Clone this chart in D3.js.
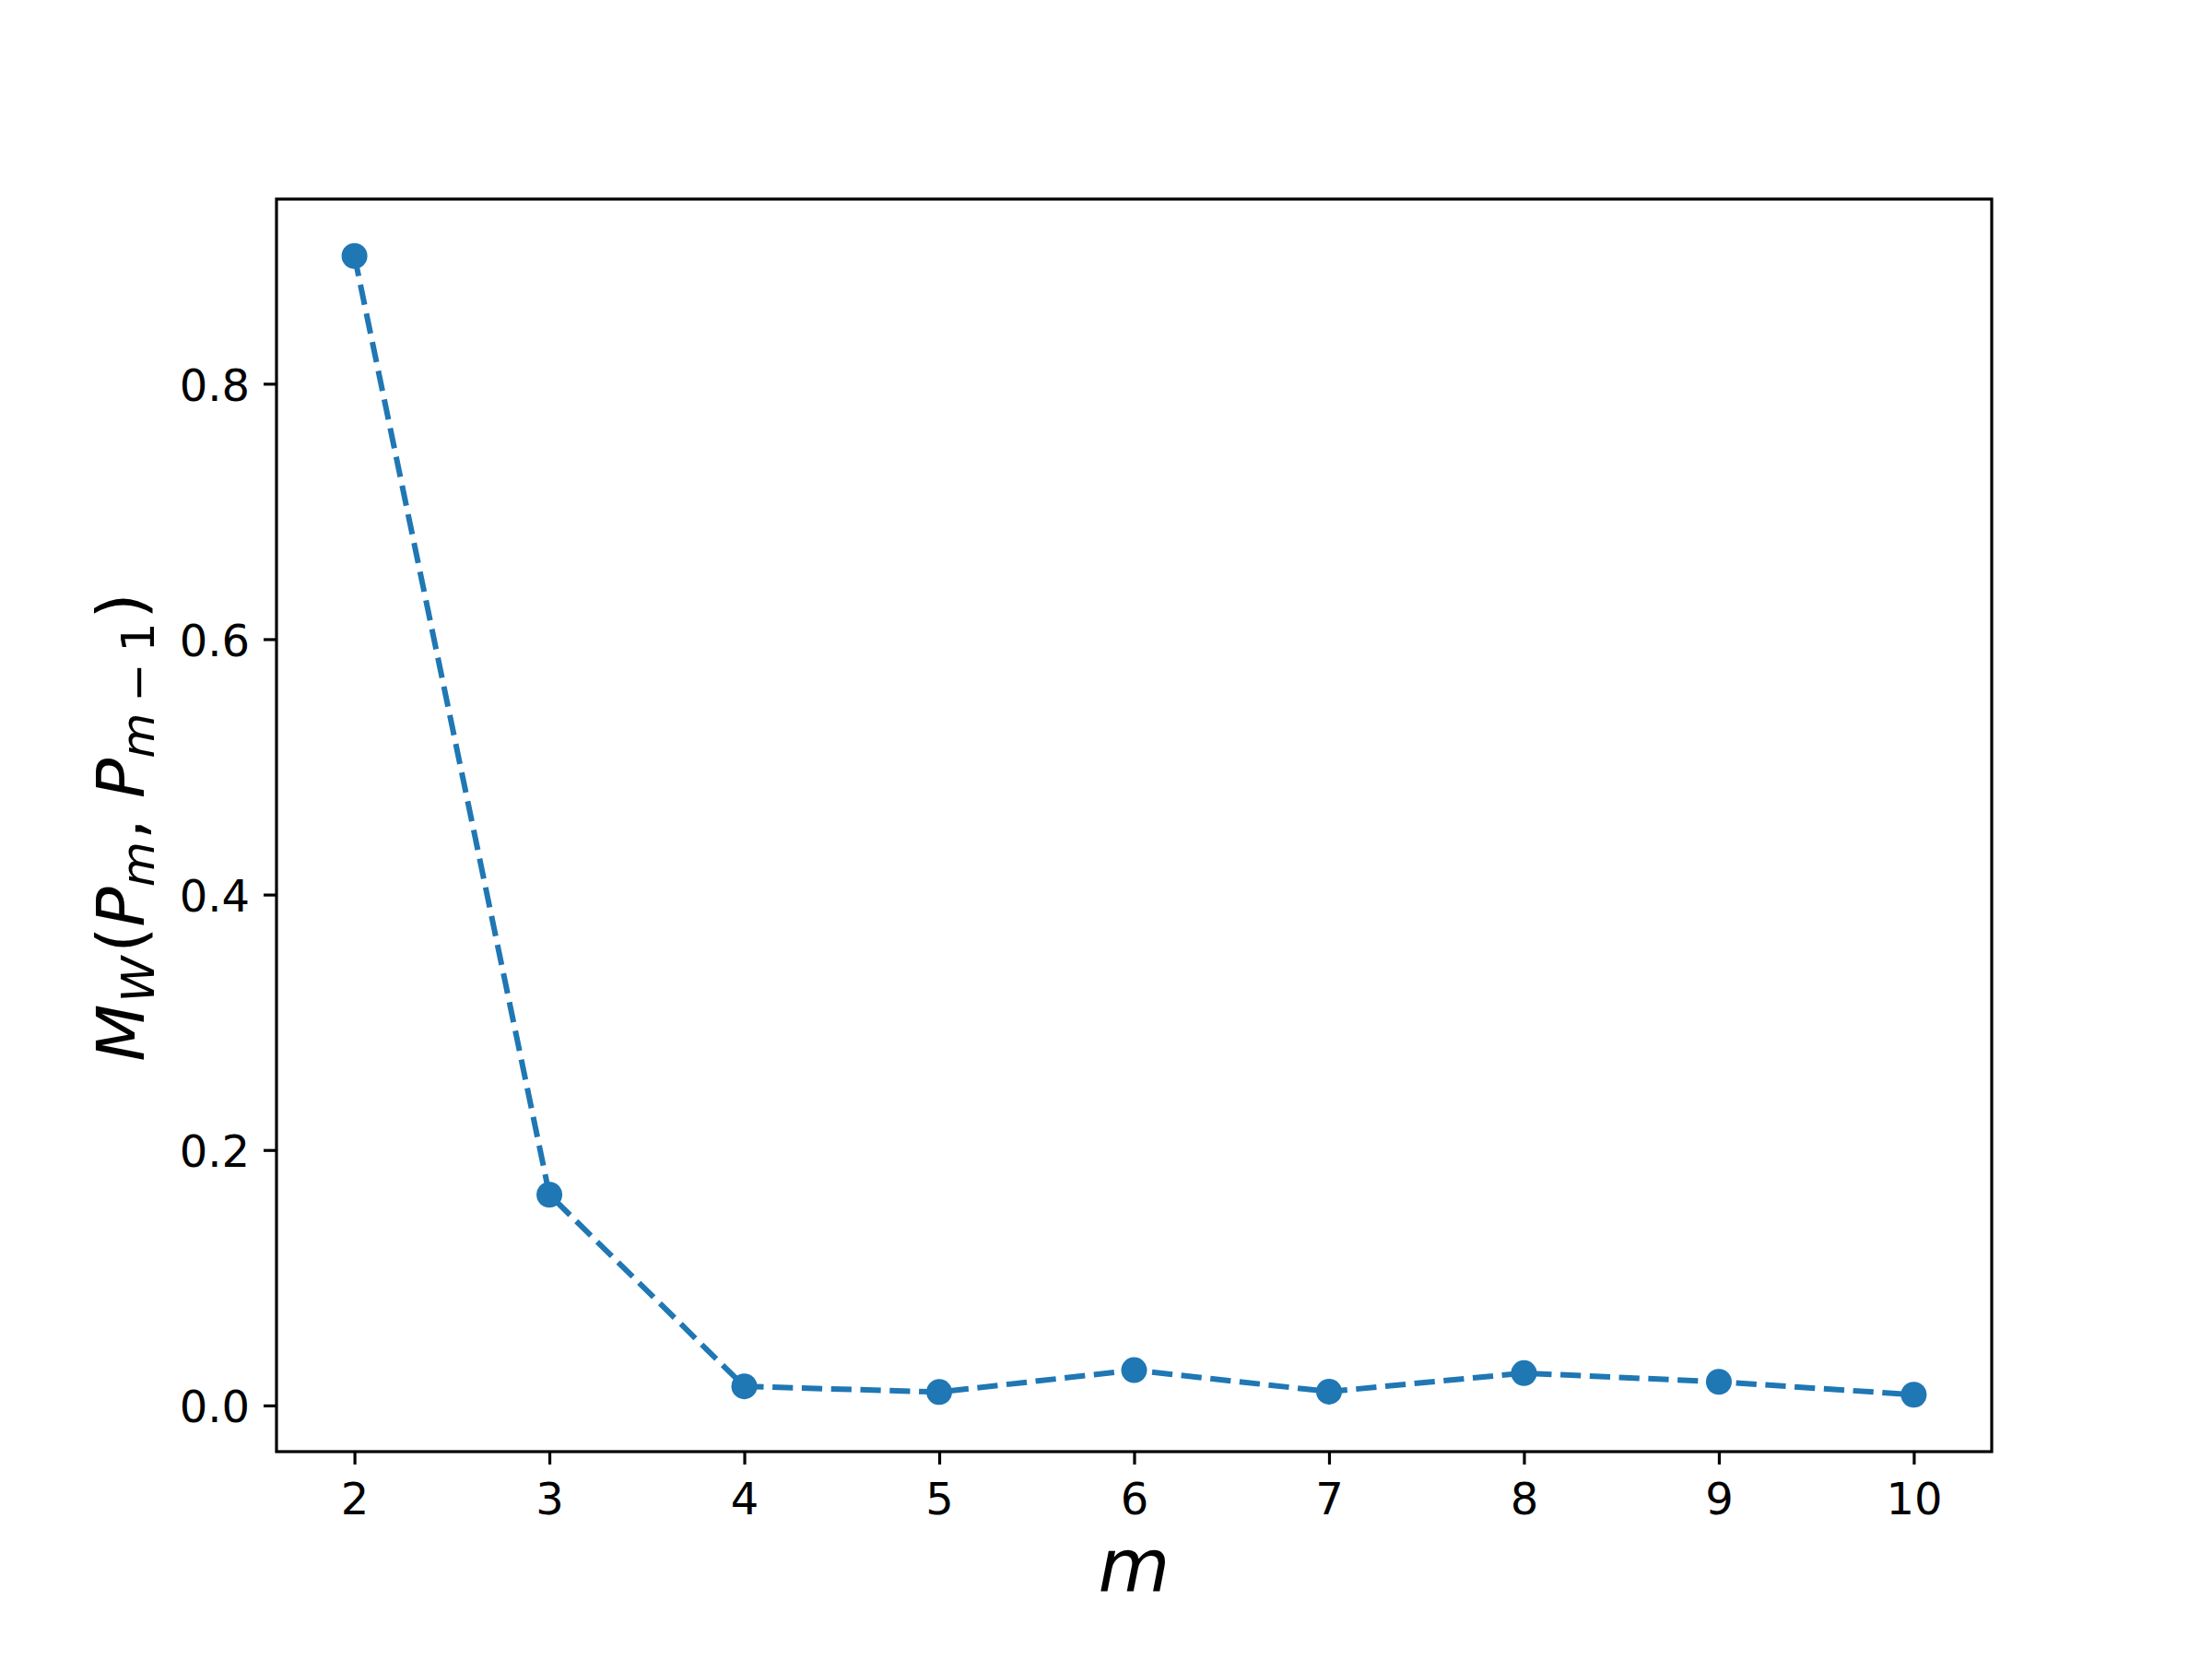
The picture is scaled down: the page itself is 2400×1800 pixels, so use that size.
<!DOCTYPE html>
<html>
<head>
<meta charset="utf-8">
<script src="https://cdn.jsdelivr.net/npm/d3@7"></script>
<style>
  html, body { margin: 0; padding: 0; background: #ffffff; }
  svg { display: block; }
</style>
</head>
<body>
<script>
// ---- data ----
const mValues = [2, 3, 4, 5, 6, 7, 8, 9, 10];
const distValues = [0.900, 0.165, 0.0149, 0.0105, 0.0276, 0.0108, 0.0253, 0.0185, 0.0084];
const xTicks = [2, 3, 4, 5, 6, 7, 8, 9, 10];
const yTicks = [0.0, 0.2, 0.4, 0.6, 0.8];

const W = 2400, H = 1800;
const plot = { left: 300, right: 2161, top: 216, bottom: 1575 };
const color = "#1f77b4";
const font = "'DejaVu Sans', sans-serif";

const svg = d3.select("body").append("svg").attr("width", W).attr("height", H);
svg.append("rect").attr("width", W).attr("height", H).attr("fill", "#fff");

// matplotlib-like 5% margins
const xMin = d3.min(mValues), xMax = d3.max(mValues);
const yMin = d3.min(distValues), yMax = d3.max(distValues);
const xPad = (xMax - xMin) * 0.05, yPad = (yMax - yMin) * 0.05;

const x = d3.scaleLinear().domain([xMin - xPad, xMax + xPad]).range([plot.left, plot.right]);
const y = d3.scaleLinear().domain([yMin - yPad, yMax + yPad]).range([plot.bottom, plot.top]);

// axes
const xAxis = svg.append("g").attr("transform", `translate(0,${plot.bottom})`)
  .call(d3.axisBottom(x).tickValues(xTicks).tickFormat(d3.format("d")).tickSize(14).tickPadding(14));
const yAxis = svg.append("g").attr("transform", `translate(${plot.left},0)`)
  .call(d3.axisLeft(y).tickValues(yTicks).tickFormat(d3.format(".1f")).tickSize(14).tickPadding(14));

[xAxis, yAxis].forEach(g => {
  g.select(".domain").remove();
  g.selectAll(".tick line").attr("stroke", "#000").attr("stroke-width", 3.2);
  g.selectAll(".tick text").attr("fill", "#000").attr("font-family", font).attr("font-size", 48);
});
xAxis.selectAll(".tick text").attr("y", 68).attr("dy", 0);
yAxis.selectAll(".tick text").attr("x", -29).attr("dy", 18);

// line
svg.append("path")
  .datum(mValues.map((m, i) => [m, distValues[i]]))
  .attr("fill", "none")
  .attr("stroke", color)
  .attr("stroke-width", 6)
  .attr("stroke-dasharray", "22.2,9.6")
  .attr("d", d3.line().x(d => x(d[0])).y(d => y(d[1])));

// markers
svg.append("g").selectAll("circle")
  .data(mValues.map((m, i) => [m, distValues[i]]))
  .join("circle")
  .attr("cx", d => x(d[0]))
  .attr("cy", d => y(d[1]))
  .attr("r", 14)
  .attr("fill", color);

// frame
svg.append("rect")
  .attr("x", plot.left).attr("y", plot.top)
  .attr("width", plot.right - plot.left).attr("height", plot.bottom - plot.top)
  .attr("fill", "none").attr("stroke", "#000").attr("stroke-width", 3.2);

// x label
svg.append("text")
  .attr("x", (plot.left + plot.right) / 2).attr("y", 1727)
  .attr("text-anchor", "middle")
  .attr("font-family", font).attr("font-size", 80).attr("font-style", "italic")
  .text("m");

// y label: M_W(P_m, P_{m-1})
const yl = svg.append("text")
  .attr("transform", `translate(156,${(plot.top + plot.bottom) / 2 + 2}) rotate(-90)`)
  .attr("text-anchor", "middle")
  .attr("font-family", font).attr("font-size", 72);
const sub = 50.4, shift = 11;
const parts = [
  { t: "M", it: true },
  { t: "W", it: true, s: sub, dy: shift, dx: 2 },
  { t: "(", dy: -shift, dx: 4 },
  { t: "P", it: true },
  { t: "m", it: true, s: sub, dy: shift },
  { t: ",", dy: -shift, dx: 2 },
  { t: "P", it: true, dx: 22 },
  { t: "m", it: true, s: sub, dy: shift },
  { t: "\u2212", s: sub, dx: 12 },
  { t: "1", s: sub, dx: 12 },
  { t: ")", dy: -shift, dx: 4 }
];
parts.forEach(p => {
  const ts = yl.append("tspan").text(p.t);
  if (p.it) ts.attr("font-style", "italic");
  if (p.s) ts.attr("font-size", p.s);
  if (p.dy) ts.attr("dy", p.dy);
  if (p.dx) ts.attr("dx", p.dx);
});
</script>
</body>
</html>
